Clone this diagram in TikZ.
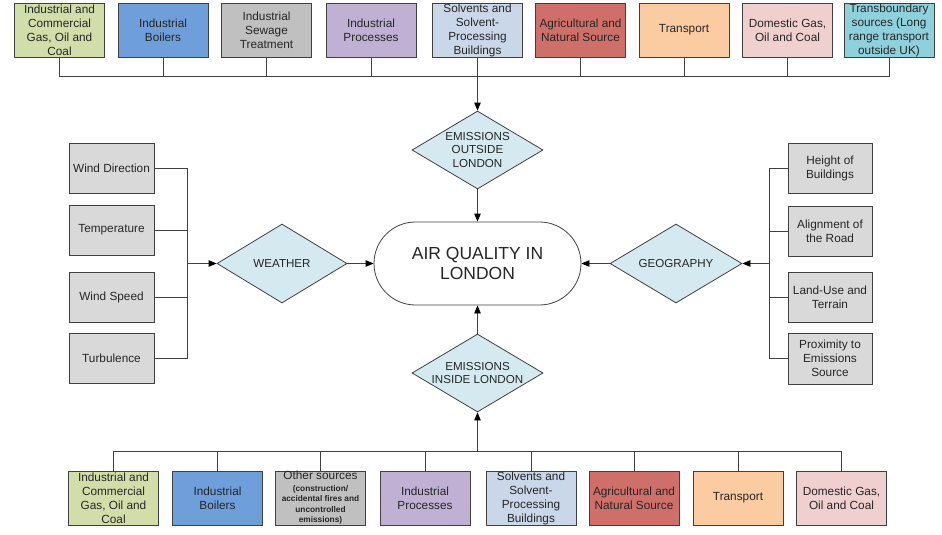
\documentclass[tikz,border=0pt]{standalone}
\usepackage{fontspec}
\setmainfont{Liberation Sans}
\usetikzlibrary{shapes.geometric,arrows.meta}
\definecolor{lncol}{HTML}{404040}
\definecolor{cgreen}{HTML}{D2DEAA}
\definecolor{cblue}{HTML}{6F9FDB}
\definecolor{cgrey}{HTML}{C0C0C0}
\definecolor{cpurple}{HTML}{C0B1D4}
\definecolor{csolv}{HTML}{C9D7E8}
\definecolor{cred}{HTML}{CF6F69}
\definecolor{cpeach}{HTML}{FBCCA2}
\definecolor{cpink}{HTML}{F0CFCF}
\definecolor{ccyan}{HTML}{8FD0DD}
\definecolor{clgrey}{HTML}{D9D9D9}
\definecolor{cdia}{HTML}{D4EAF0}
\tikzset{
  box/.style={draw=lncol, line width=0.8pt, minimum width=90pt, minimum height=54pt, inner sep=0pt},
  sbox/.style={draw=lncol, line width=0.8pt, minimum width=85pt, minimum height=50pt, inner sep=0pt, fill=clgrey},
  btext/.style={align=center, font=\fontsize{11.8}{14}\selectfont, inner sep=0pt, text=black!85},
  otext/.style={align=center, font=\fontsize{8.3}{10.4}\selectfont\bfseries, inner sep=0pt, text=black!85},
  dia/.style={diamond, draw=lncol, line width=0.8pt, fill=cdia, minimum width=131pt, minimum height=78pt, inner sep=0pt},
  dtext/.style={align=center, font=\fontsize{11.6}{13.5}\selectfont, inner sep=0pt, text=black!85},
  conn/.style={draw=lncol, line width=0.8pt},
  arr/.style={draw=lncol, line width=0.8pt, -{Triangle[length=8pt,width=6.5pt,color=black]}},
}
\begin{document}
\begin{tikzpicture}[x=1pt,y=-1pt]
\useasboundingbox (0,0) rectangle (942,535);
% top row
\node[box, fill=cgreen, label={[btext]center:Industrial and\\Commercial\\Gas, Oil and\\Coal}] (t1) at (59.5,30) {};
\node[box, fill=cblue, label={[btext]center:Industrial\\Boilers}] (t2) at (163,30) {};
\node[box, fill=cgrey, label={[btext]center:Industrial\\Sewage\\Treatment}] (t3) at (266.5,30) {};
\node[box, fill=cpurple, label={[btext]center:Industrial\\Processes}] (t4) at (371,30) {};
\node[box, fill=csolv, label={[btext]center:Solvents and\\Solvent-\\Processing\\Buildings}] (t5) at (477.5,30) {};
\node[box, fill=cred, label={[btext]center:Agricultural and\\Natural Source}] (t6) at (580.5,30) {};
\node[box, fill=cpeach, label={[btext]center:Transport}] (t7) at (684,30) {};
\node[box, fill=cpink, label={[btext]center:Domestic Gas,\\Oil and Coal}] (t8) at (787.5,30) {};
\node[box, fill=ccyan, label={[btext]center:Transboundary\\sources (Long\\range transport\\outside UK)}] (t9) at (889,30) {};
\coordinate (topbus) at (477.5,76);
\draw[conn] (t1.south) -- (t1.south |- topbus) -- (t9.south |- topbus) -- (t9.south);
\foreach \n in {t2,t3,t4,t5,t6,t7,t8} \draw[conn] (\n.south) -- (\n.south |- topbus);
% centre
\node[dia, label={[dtext]center:EMISSIONS\\OUTSIDE\\LONDON}] (eo) at (477.5,150) {};
\node[draw=lncol, line width=0.8pt, fill=white, rounded corners=41.5pt, minimum width=207pt, minimum height=83pt, align=center, font=\fontsize{17.5}{20.5}\selectfont, text=black!85] (aq) at (477.5,263.5) {AIR QUALITY IN\\LONDON};
\node[dia, label={[dtext]center:EMISSIONS\\INSIDE LONDON}] (ei) at (477.5,373) {};
\draw[arr] (topbus) -- (eo.north);
\draw[arr] (eo.south) -- (aq.north);
% weather
\node[dia, minimum width=130pt, minimum height=79pt, label={[dtext]center:WEATHER}] (we) at (282,263.5) {};
\node[sbox, label={[btext]center:Wind Direction}] (w1) at (111.5,168) {};
\node[sbox, label={[btext]center:Temperature}] (w2) at (111.5,230) {};
\node[sbox, label={[btext]center:Wind Speed}] (w3) at (111.5,297) {};
\node[sbox, label={[btext]center:Turbulence}] (w4) at (111.5,358) {};
\coordinate (lbus) at (187,263.5);
\draw[conn] (w1.east) -- (w1.east -| lbus) -- (w4.east -| lbus) -- (w4.east);
\draw[conn] (w2.east) -- (w2.east -| lbus);
\draw[conn] (w3.east) -- (w3.east -| lbus);
\draw[arr] (lbus) -- (we.west);
\draw[arr] (we.east) -- (aq.west);
% geography
\node[dia, minimum width=132pt, minimum height=79pt, label={[dtext]center:GEOGRAPHY}] (ge) at (676,263.5) {};
\node[sbox, minimum width=84pt, label={[btext]center:Height of\\Buildings}] (g1) at (830,168) {};
\node[sbox, minimum width=84pt, label={[btext]center:Alignment of\\the Road}] (g2) at (830,231) {};
\node[sbox, minimum width=84pt, label={[btext]center:Land-Use and\\Terrain}] (g3) at (830,297) {};
\node[sbox, minimum width=84pt, minimum height=51pt, label={[btext]center:Proximity to\\Emissions\\Source}] (g4) at (830,358.5) {};
\coordinate (rbus) at (769,263.5);
\draw[conn] (g1.west) -- (g1.west -| rbus) -- (g4.west -| rbus) -- (g4.west);
\draw[conn] (g2.west) -- (g2.west -| rbus);
\draw[conn] (g3.west) -- (g3.west -| rbus);
\draw[arr] (rbus) -- (ge.east);
\draw[arr] (ge.west) -- (aq.east);
% bottom row
\node[box, fill=cgreen, label={[btext]center:Industrial and\\Commercial\\Gas, Oil and\\Coal}] (b1) at (113.5,498) {};
\node[box, fill=cblue, label={[btext]center:Industrial\\Boilers}] (b2) at (217.5,498) {};
\node[box, fill=cgrey] (b3) at (320.5,498) {};
\node[btext, anchor=center] (b3a) at (320.5,475) {Other sources};
\node[otext, anchor=center] (b3b) at (320.5,505) {(construction/\\accidental fires and\\uncontrolled\\emissions)};
\node[box, fill=cpurple, label={[btext]center:Industrial\\Processes}] (b4) at (425,498) {};
\node[box, fill=csolv, label={[btext]center:Solvents and\\Solvent-\\Processing\\Buildings}] (b5) at (531,498) {};
\node[box, fill=cred, label={[btext]center:Agricultural and\\Natural Source}] (b6) at (634,498) {};
\node[box, fill=cpeach, label={[btext]center:Transport}] (b7) at (738,498) {};
\node[box, fill=cpink, label={[btext]center:Domestic Gas,\\Oil and Coal}] (b8) at (841.5,498) {};
\coordinate (botbus) at (477.5,451);
\draw[conn] (b1.north) -- (b1.north |- botbus) -- (b8.north |- botbus) -- (b8.north);
\foreach \n in {b2,b3,b4,b5,b6,b7} \draw[conn] (\n.north) -- (\n.north |- botbus);
\draw[arr] (botbus) -- (ei.south);
\draw[arr] (ei.north) -- (aq.south);
\end{tikzpicture}
\end{document}
